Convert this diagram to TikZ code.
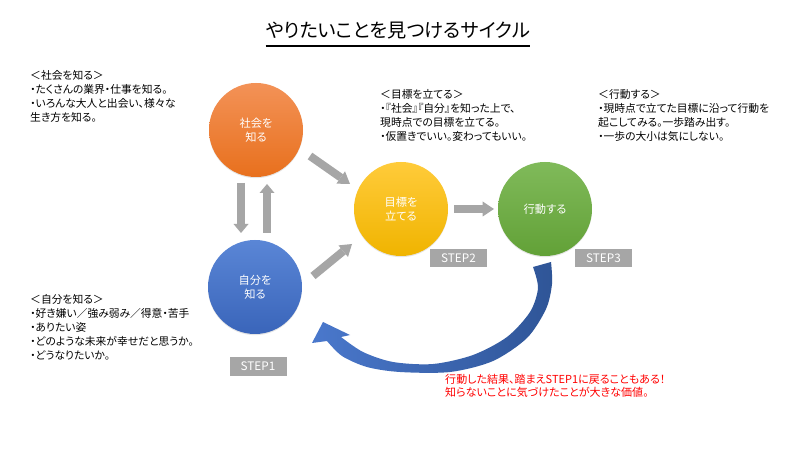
\documentclass[tikz,border=0pt]{standalone}
\usepackage{fontspec}
\newfontfamily\jp[RawFeature=+palt]{Noto Sans CJK JP}
\usetikzlibrary{arrows.meta,shadows}
\definecolor{orA}{HTML}{F39257}
\definecolor{orB}{HTML}{E8701D}
\definecolor{yeA}{HTML}{FFCB3A}
\definecolor{yeB}{HTML}{F0B400}
\definecolor{grA}{HTML}{80BA5A}
\definecolor{grB}{HTML}{62A137}
\definecolor{blA}{HTML}{5A86D6}
\definecolor{blB}{HTML}{3A65BA}
\definecolor{stepgray}{HTML}{A6A6A6}
\definecolor{arrgray}{HTML}{A6A6A6}
\definecolor{arrLight}{HTML}{4A78CC}
\definecolor{arrDark}{HTML}{2F5597}
\begin{document}
\begin{tikzpicture}[x=0.3mm,y=-0.3mm,
  circ/.style={circle, minimum size=28.2mm, inner sep=0pt, text=white, align=center,
    font=\jp\fontsize{9.6pt}{12pt}\selectfont,
    drop shadow={shadow xshift=0pt, shadow yshift=-1pt, opacity=0.2}},
  stepbox/.style={fill=stepgray, text=white, minimum width=17.1mm, minimum height=5.4mm,
    inner sep=0pt, font=\jp\fontsize{10pt}{11pt}\selectfont},
  txt/.style={anchor=north west, inner sep=0pt, align=left,
    font=\jp\fontsize{9.2pt}{12pt}\selectfont},
  blockarrow/.style={draw=arrgray, line width=2.4mm,
    -{Triangle[length=3.4mm,width=4.5mm,line width=0pt]}}
]
\fill[white] (0,0) rectangle (800,450);
\useasboundingbox (0,0) rectangle (800,450);

% title
\node[inner sep=0pt, font=\jp\fontsize{16.4pt}{18pt}\selectfont] (title) at (398,31) {やりたいことを見つけるサイクル};
\coordinate (ul) at (0,46);
\draw[line width=0.35mm] (title.west |- ul) -- (title.east |- ul);

% circles
\node[circ, top color=orA, bottom color=orB] (soc) at (256,130) {社会を\\知る};
\node[circ, top color=yeA, bottom color=yeB] (goal) at (401,209) {目標を\\立てる};
\node[circ, top color=grA, bottom color=grB] (act) at (545,209) {行動する};
\node[circ, top color=blA, bottom color=blB] (self) at (255,287) {自分を\\知る};

% step labels
\node[stepbox] (s1) at (258,366.5) {STEP1};
\node[stepbox] (s2) at (458.5,258) {STEP2};
\node[stepbox] (s3) at (603.5,258) {STEP3};

% gray block arrows
\coordinate (d1) at (241,183);
\coordinate (d2) at (241,233);
\coordinate (u1) at (267,233);
\coordinate (u2) at (267,184);
\coordinate (a1) at (310,156);
\coordinate (a2) at (350,184);
\coordinate (b1) at (313,276);
\coordinate (b2) at (352,244);
\coordinate (h1) at (454,209);
\coordinate (h2) at (494,209);
\draw[blockarrow, -{Triangle[length=2.7mm,width=4.5mm,line width=0pt]}] (d1) -- (d2);
\draw[blockarrow, -{Triangle[length=2.7mm,width=4.5mm,line width=0pt]}] (u1) -- (u2);
\draw[blockarrow] (a1) -- (a2);
\draw[blockarrow] (b1) -- (b2);
\draw[blockarrow] (h1) -- (h2);

% curved return arrow
\shade[left color=arrLight, right color=arrDark]
  plot[smooth] coordinates {(551,262) (552,284) (546,309) (527,338) (493,361) (450,372) (400,372) (367,367) (342,356) (327,341)}
  -- (312,343) -- (323,322) -- (350,335) --
  plot[smooth] coordinates {(341,337) (363,352) (393,362) (433,364) (473,355) (507,337) (530,312) (538,288) (533,267)}
  -- cycle;

% text blocks
\node[txt] (t1) at (30,70) {＜社会を知る＞\\・たくさんの業界・仕事を知る。\\・いろんな大人と出会い、様々な\\生き方を知る。};
\node[txt] (t2) at (380,89) {＜目標を立てる＞\\・『社会』『自分』を知った上で、\\現時点での目標を立てる。\\・仮置きでいい。変わってもいい。};
\node[txt] (t3) at (598,89) {＜行動する＞\\・現時点で立てた目標に沿って行動を\\起こしてみる。一歩踏み出す。\\・一歩の大小は気にしない。};
\node[txt] (t4) at (30,294) {＜自分を知る＞\\・好き嫌い／強み弱み／得意・苦手\\・ありたい姿\\・どのような未来が幸せだと思うか。\\・どうなりたいか。};
\node[txt, text=red, font=\jp\fontsize{9.4pt}{11.5pt}\selectfont] (t5) at (445,374) {行動した結果、踏まえSTEP1に戻ることもある！\\知らないことに気づけたことが大きな価値。};
\end{tikzpicture}
\end{document}
